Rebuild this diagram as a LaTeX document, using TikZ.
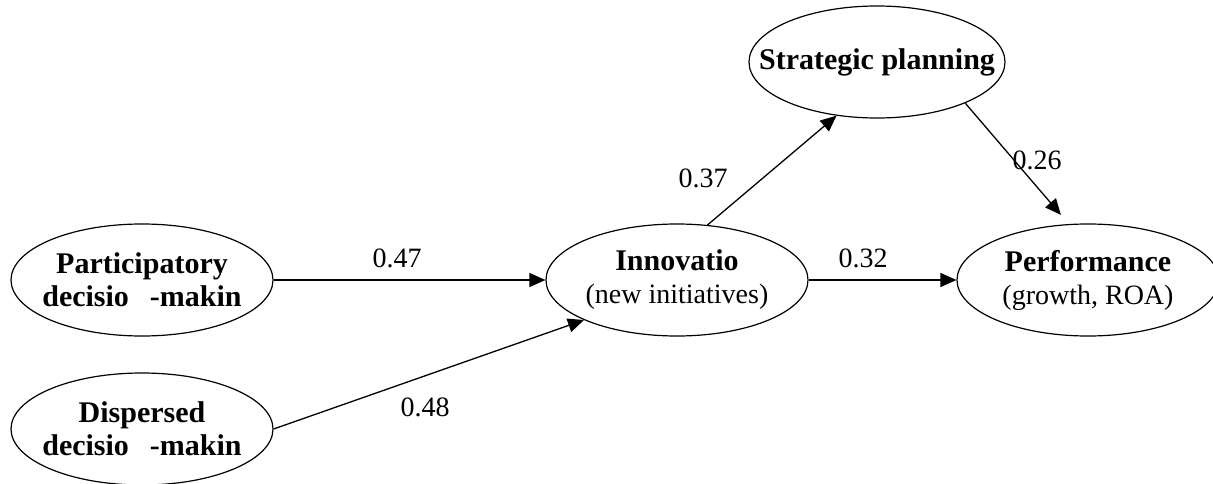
\documentclass[tikz,border=0pt]{standalone}
\usepackage{fontspec}
\setmainfont{Liberation Serif}
\usetikzlibrary{shapes.geometric,arrows.meta}
\newcommand{\bt}[1]{{\fontsize{30}{33}\selectfont\bfseries #1}}
\begin{document}
\begin{tikzpicture}[x=1pt,y=-1pt,
  oval/.style={ellipse,draw,line width=1.2pt,minimum width=262pt,minimum height=112pt,inner sep=0pt},
  txt/.style={align=center,inner sep=0pt,font=\fontsize{28}{33}\selectfont},
  conn/.style={line width=1.3pt,-{Triangle[length=16pt,width=14pt]}},
  lbl/.style={font=\fontsize{28}{33}\selectfont,inner sep=0pt}]
\useasboundingbox (0,0) rectangle (1213,484);
\node[oval] (part) at (142,280) {};
\node[txt] (partt) at (part.center) {\bt{Participatory}\\\bt{decisio\hspace{0.7em}-makin}};
\node[oval] (disp) at (142,429) {};
\node[txt] (dispt) at (disp.center) {\bt{Dispersed}\\\bt{decisio\hspace{0.7em}-makin}};
\node[oval] (innov) at (677,280) {};
\node[txt] (innovt) at (innov.center) {\bt{Innovatio}\\(new initiatives)};
\node[oval] (perf) at (1088,280) {};
\node[txt] (perft) at (perf.center) {\bt{Performance}\\(growth, ROA)};
\node[oval,minimum width=256pt] (strat) at (877,62) {};
\node[txt] (stratt) at (strat.center) {\bt{Strategic planning}};
\draw[conn] (part.east) -- (innov.west);
\draw[conn] (disp.east) -- (innov.south west);
\draw[conn] (innov.east) -- (perf.west);
\draw[conn] (innov.61) -- (strat.233);
\draw[conn,shorten >=12pt] (strat.-25) -- (perf.109);
\node[lbl] (l47) at (397,258) {0.47};
\node[lbl] (l48) at (425,407) {0.48};
\node[lbl] (l32) at (863,258) {0.32};
\node[lbl] (l37) at (703,178) {0.37};
\node[lbl] (l26) at (1037,160) {0.26};
\end{tikzpicture}
\end{document}
